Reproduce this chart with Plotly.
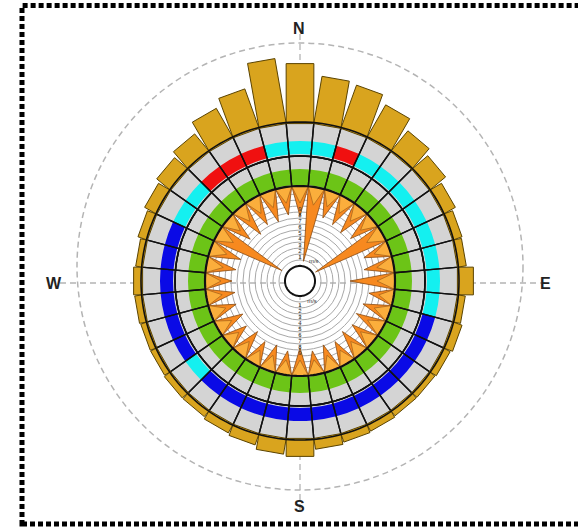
import math
import plotly.graph_objects as go

# ---------------- data ----------------
directions = [0, 10, 20, 30, 40, 50, 60, 70, 80, 90, 100, 110, 120, 130, 140, 150, 160, 170,
              180, 190, 200, 210, 220, 230, 240, 250, 260, 270, 280, 290, 300, 310, 320, 330, 340, 350]

# outer gold bars (length beyond the outer ring)
gold_len = [59, 47, 45, 37, 26, 20, 13, 9, 8, 15, 7, 9, 7, 6, 6, 7, 8, 10,
            17, 15, 11, 9, 7, 7, 6, 6, 7, 8, 6, 9, 13, 17, 22, 33, 41, 65]

# colour class of the band in the outer ring
band_class = ["cyan", "cyan", "red", "cyan", "cyan", "cyan", "cyan", "cyan", "cyan", "cyan", "cyan",
              "blue", "blue", "blue", "blue", "blue", "blue", "blue", "blue", "blue", "blue", "blue", "blue",
              "cyan", "blue", "blue", "blue", "blue", "blue", "blue",
              "cyan", "cyan", "red", "red", "red", "cyan"]

# inner ring class (all green)
inner_class = ["green"] * 36

# orange spikes (length pointing inward from the inner black circle)
spike_len = [30, 75, 28, 30, 32, 29, 77, 27, 30, 45, 25, 28, 30, 27, 29, 25, 27, 24,
             28, 24, 27, 25, 29, 25, 29, 27, 29, 27, 30, 32, 74, 30, 34, 30, 32, 28]
spike_inner = [17, 18, 16, 17, 17, 16, 18, 16, 17, 18, 15, 16, 17, 16, 16, 15, 16, 15,
               16, 15, 16, 15, 16, 15, 16, 16, 16, 16, 17, 17, 18, 17, 17, 17, 17, 16]

speed_ticks = [21, 27, 33, 39, 45, 51, 57, 63, 69, 75, 81, 87, 93]
label_r = [24, 30, 36, 42, 48, 54, 60, 66, 72]
label_up = ["1", "2", "3", "4", "5", "6", "7", "8", "9"]
label_down = ["1", "2", "3", "4", "5", "6", "7", "8", "9"]

class_colors = {"cyan": "#14F0F0", "red": "#F01010", "blue": "#0A0AE6", "green": "#6CC417"}

# ---------------- geometry constants ----------------
R_HOLE = 15
R_IN = 95
R_MID = 125
R_OUT = 159
R_MAX = 240


def spikes(lengths):
    th, rr = [], []
    for d, L in zip(directions, lengths):
        th += [d - 5, d, d + 5, d - 5, None]
        rr += [R_IN, R_IN - L, R_IN, R_IN, None]
    return th, rr


def rect_bars(lengths):
    # straight-sided bars standing on the outer ring
    hw = R_OUT * math.sin(math.radians(5))
    foot = R_OUT * math.cos(math.radians(5))
    th, rr = [], []
    for d, L in zip(directions, lengths):
        top = foot + L
        a = math.degrees(math.atan2(hw, top))
        rt = math.hypot(hw, top)
        th += [d - 5, d - a, d + a, d + 5, d - 5, None]
        rr += [R_OUT - 1, rt, rt, R_OUT - 1, R_OUT - 1, None]
    return th, rr


fig = go.Figure()

# gold bars
gt, gr = rect_bars(gold_len)
fig.add_trace(go.Scatterpolar(theta=gt, r=gr, mode="lines", fill="toself", connectgaps=False,
                              fillcolor="#D9A41E", line=dict(color="#5a4300", width=1)))
# gray ring background
fig.add_trace(go.Barpolar(theta=directions, r=[R_OUT - R_IN] * 36, base=[R_IN] * 36, width=[10] * 36,
                          marker=dict(color="#D4D4D4", line=dict(width=0))))
# green band
fig.add_trace(go.Barpolar(theta=directions, r=[16] * 36, base=[R_IN + 1] * 36, width=[10] * 36,
                          marker=dict(color=[class_colors[c] for c in inner_class], line=dict(width=0))))
# outer coloured band
fig.add_trace(go.Barpolar(theta=directions, r=[13] * 36, base=[R_MID + 2] * 36, width=[10] * 36,
                          marker=dict(color=[class_colors[c] for c in band_class], line=dict(width=0))))
# cell outlines
fig.add_trace(go.Barpolar(theta=directions, r=[R_MID - R_IN] * 36, base=[R_IN] * 36, width=[10] * 36,
                          marker=dict(color="rgba(0,0,0,0)", line=dict(color="#111", width=1.4))))
fig.add_trace(go.Barpolar(theta=directions, r=[R_OUT - R_MID] * 36, base=[R_MID] * 36, width=[10] * 36,
                          marker=dict(color="rgba(0,0,0,0)", line=dict(color="#111", width=1.4))))

# orange spikes
th, rr = spikes(spike_len)
fig.add_trace(go.Scatterpolar(theta=th, r=rr, mode="lines", fill="toself", connectgaps=False,
                              fillcolor="#F7891F", line=dict(color="#8a4a10", width=0.8)))
th2, rr2 = spikes(spike_inner)
fig.add_trace(go.Scatterpolar(theta=th2, r=rr2, mode="lines", fill="toself", connectgaps=False,
                              fillcolor="#FBAE3C", line=dict(color="#a0601a", width=0.7)))

# circles
circ_t = list(range(0, 361, 2))
fig.add_trace(go.Scatterpolar(theta=circ_t, r=[R_HOLE] * len(circ_t), mode="lines", fill="toself",
                              fillcolor="white", line=dict(color="#111", width=2)))
fig.add_trace(go.Scatterpolar(theta=circ_t, r=[R_IN] * len(circ_t), mode="lines",
                              line=dict(color="#111", width=2.2)))
fig.add_trace(go.Scatterpolar(theta=circ_t, r=[R_MID] * len(circ_t), mode="lines",
                              line=dict(color="#111", width=1.6)))
fig.add_trace(go.Scatterpolar(theta=circ_t, r=[R_OUT] * len(circ_t), mode="lines",
                              line=dict(color="#111", width=1.6)))

# tiny speed labels
fig.add_trace(go.Scatterpolar(theta=[0] * len(label_r), r=label_r, mode="text", text=label_up,
                              textfont=dict(size=6, color="#333", family="Liberation Sans")))
fig.add_trace(go.Scatterpolar(theta=[180] * len(label_r), r=label_r, mode="text", text=label_down,
                              textfont=dict(size=6, color="#333", family="Liberation Sans")))
fig.add_trace(go.Scatterpolar(theta=[35, 150], r=[24, 24], mode="text", text=["m/s", "m/s"],
                              textfont=dict(size=6, color="#333", family="Liberation Sans")))

W, H = 578, 531
cx, cy = 300, 281
fig.update_layout(
    width=W, height=H, margin=dict(l=0, r=0, t=0, b=0),
    paper_bgcolor="white", showlegend=False,
    polar=dict(
        domain=dict(x=[(cx - R_MAX) / W, (cx + R_MAX) / W],
                    y=[(H - cy - R_MAX) / H, (H - cy + R_MAX) / H]),
        bgcolor="rgba(0,0,0,0)", bargap=0,
        radialaxis=dict(range=[0, R_MAX], tickvals=speed_ticks, showticklabels=False, ticks="",
                        showline=False, gridcolor="#a8a8a8", gridwidth=0.8),
        angularaxis=dict(direction="clockwise", rotation=90, showgrid=False, showline=False,
                         showticklabels=False, ticks=""),
    ),
    shapes=[
        dict(type="circle", xref="paper", yref="paper", layer="below",
             x0=77 / W, x1=523 / W, y0=1 - 490 / H, y1=1 - 43 / H,
             line=dict(color="#b4b4b4", width=1.5, dash="6px,4px")),
        dict(type="line", xref="paper", yref="paper", layer="below",
             x0=cx / W, x1=cx / W, y0=1 - 510 / H, y1=1 - 28 / H,
             line=dict(color="#b4b4b4", width=1.3, dash="6px,4px")),
        dict(type="line", xref="paper", yref="paper", layer="below",
             x0=60 / W, x1=545 / W, y0=1 - 283 / H, y1=1 - 283 / H,
             line=dict(color="#b4b4b4", width=1.3, dash="6px,4px")),
        dict(type="rect", xref="paper", yref="paper",
             x0=22 / W, x1=1.02, y0=1 - 524 / H, y1=1 - 5.5 / H,
             line=dict(color="black", width=5, dash="5px,3px")),
    ],
    annotations=[
        dict(text="<b>N</b>", x=299 / W, y=1 - 18 / H, xref="paper", yref="paper", showarrow=False,
             font=dict(size=16, family="Liberation Sans", color="#222")),
        dict(text="<b>S</b>", x=299 / W, y=1 - 517 / H, xref="paper", yref="paper", showarrow=False,
             font=dict(size=16, family="Liberation Sans", color="#222")),
        dict(text="<b>W</b>", x=44 / W, y=1 - 283 / H, xref="paper", yref="paper", showarrow=False,
             font=dict(size=16, family="Liberation Sans", color="#222")),
        dict(text="<b>E</b>", x=553 / W, y=1 - 283 / H, xref="paper", yref="paper", showarrow=False,
             font=dict(size=16, family="Liberation Sans", color="#222")),
    ],
)

fig.write_html("out.html", config={"displayModeBar": False},
               post_script="document.body.style.margin='0';")
